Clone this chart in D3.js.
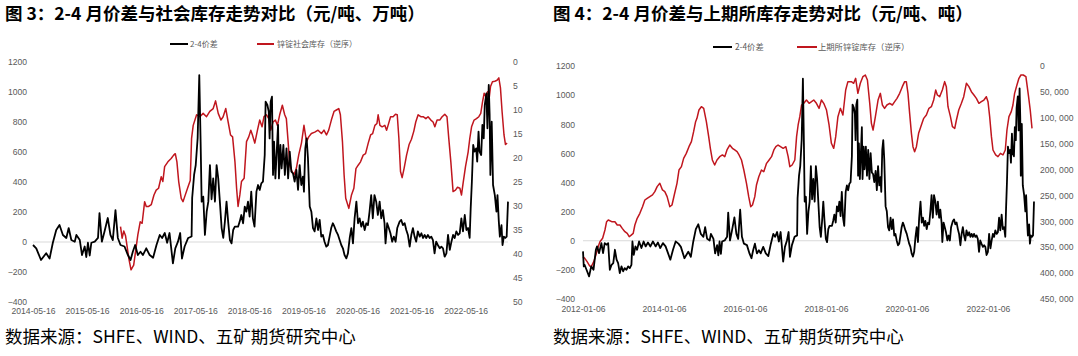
<!DOCTYPE html>
<html><head><meta charset="utf-8">
<script src="https://cdn.jsdelivr.net/npm/d3@7"></script>
<style>
body{margin:0;background:#fff;}
svg{display:block;}
</style></head>
<body>
<svg id="chart" width="1078" height="356"></svg>
<script>
// ---- 2-4 month spread (元/吨) ----
const spreadDates = [
"2012-01-06","2012-01-13","2012-01-20","2012-02-05","2012-03-01","2012-03-20","2012-04-10","2012-05-01","2012-05-12","2012-05-30",
"2012-06-20","2012-07-05","2012-07-20","2012-08-05","2012-08-20","2012-09-04","2012-09-20","2012-10-05","2012-10-20","2012-11-04",
"2012-11-18","2012-12-03","2012-12-18","2013-01-02","2013-01-16","2013-02-01","2013-02-16","2013-03-03","2013-03-18","2013-03-27",
"2013-04-08","2013-04-23","2013-05-08","2013-05-26","2013-06-16","2013-07-06","2013-07-24","2013-08-14","2013-09-05","2013-09-28",
"2013-10-22","2013-11-12","2013-12-03","2013-12-27","2014-01-20","2014-02-11","2014-03-04","2014-03-28","2014-04-21",
"2014-05-16","2014-06-07","2014-07-09","2014-08-13","2014-09-05","2014-09-27","2014-10-20","2014-11-11","2014-12-04","2014-12-27",
"2015-01-12","2015-01-30","2015-02-22","2015-03-05","2015-03-28","2015-04-12","2015-04-30","2015-05-11","2015-05-22","2015-06-03",
"2015-06-14","2015-07-07","2015-07-29","2015-08-08","2015-08-24","2015-09-11","2015-10-03","2015-10-21","2015-11-06","2015-11-24",
"2015-12-10","2015-12-28","2016-01-24","2016-02-16","2016-03-05","2016-03-20","2016-04-05","2016-04-23","2016-05-11","2016-05-27",
"2016-06-19","2016-07-12","2016-08-04","2016-08-27","2016-09-18","2016-10-04","2016-10-22","2016-11-07","2016-11-23","2016-12-16",
"2017-01-01","2017-01-19","2017-02-03","2017-02-15","2017-03-05","2017-03-29","2017-04-21","2017-04-25","2017-05-08","2017-05-19",
"2017-06-01","2017-06-12","2017-06-21","2017-06-28","2017-07-09","2017-07-20","2017-08-01","2017-08-12","2017-08-23","2017-09-03",
"2017-09-14","2017-09-26","2017-10-07","2017-10-18","2017-10-29","2017-11-10","2017-11-21","2017-12-02","2017-12-13","2017-12-24",
"2018-01-05","2018-01-16","2018-01-27","2018-02-07","2018-03-01","2018-03-12","2018-03-23","2018-04-04","2018-04-15","2018-04-26",
"2018-05-07","2018-05-18","2018-05-29","2018-06-09","2018-06-20","2018-07-03","2018-07-14","2018-07-25","2018-08-05","2018-08-16",
"2018-08-28","2018-09-03","2018-09-15","2018-09-24","2018-09-30","2018-10-07","2018-10-16","2018-10-23","2018-10-30","2018-11-08",
"2018-11-17","2018-11-26","2018-12-02","2018-12-12","2018-12-20","2019-01-01","2019-01-11","2019-01-22","2019-02-02","2019-02-13",
"2019-02-24","2019-03-07","2019-03-18","2019-03-30","2019-04-10","2019-04-21","2019-05-02","2019-05-13","2019-05-20","2019-05-29",
"2019-06-07","2019-06-16","2019-06-28","2019-07-09","2019-07-20","2019-07-31","2019-08-12","2019-08-23","2019-09-03","2019-09-14",
"2019-09-25","2019-10-06","2019-10-18","2019-10-29","2019-11-09","2019-11-20","2019-12-01","2019-12-12","2019-12-24","2020-01-05",
"2020-01-16","2020-01-27","2020-02-07","2020-02-18","2020-03-01","2020-03-12","2020-03-24","2020-04-04","2020-04-15","2020-04-26",
"2020-05-08","2020-05-19","2020-05-30","2020-06-10","2020-06-21","2020-07-03","2020-07-14","2020-07-25","2020-08-05","2020-08-16",
"2020-08-27","2020-09-07","2020-09-19","2020-09-30","2020-10-12","2020-10-23","2020-11-03","2020-11-14","2020-11-21","2020-12-02",
"2020-12-13","2020-12-24","2021-01-05","2021-01-16","2021-01-28","2021-02-08","2021-02-24","2021-03-07","2021-03-18","2021-03-30",
"2021-04-10","2021-04-21","2021-05-03","2021-05-14","2021-05-25","2021-06-05","2021-06-16","2021-06-27","2021-07-10","2021-07-21",
"2021-08-01","2021-08-12","2021-08-23","2021-09-03","2021-09-15","2021-09-26","2021-10-07","2021-10-18","2021-10-29","2021-11-09",
"2021-11-22","2021-12-03","2021-12-14","2021-12-25","2022-01-06","2022-01-17","2022-01-29","2022-02-09","2022-02-20","2022-03-03",
"2022-03-14","2022-03-26","2022-04-06","2022-04-17","2022-04-28","2022-05-10","2022-05-21","2022-06-01","2022-06-12","2022-06-19",
"2022-06-27","2022-07-06","2022-07-15","2022-07-26","2022-08-02","2022-08-11","2022-08-18","2022-08-29","2022-09-06","2022-09-15",
"2022-09-22","2022-10-03","2022-10-10","2022-10-19","2022-10-25","2022-10-30","2022-11-08","2022-11-17","2022-11-29","2022-12-10",
"2022-12-17","2022-12-26","2023-01-02","2023-01-13","2023-01-20","2023-01-29","2023-02-08","2023-02-17","2023-02-26"
];
const spreadValues = [
-73,-176,-165,-196,-245,-176,-199,-62,-39,-85,
-16,-85,-16,-27,-16,-199,-165,-154,-62,-130,
-154,-222,-176,-210,-188,-199,-176,-188,-165,-5,
-97,-39,-62,-5,-50,-5,-39,-12,-39,-5,
-39,-12,-50,-16,-39,-85,-130,-62,-5,
-20,-42,-120,-75,-110,-5,80,113,47,27,
93,13,2,47,13,-87,-30,-100,-5,-90,
-5,2,27,193,2,70,160,47,13,213,
27,-20,-30,-87,-120,-65,-20,-87,-65,-87,
-42,-87,-105,-20,47,27,60,-5,60,-143,
-42,2,60,-110,-30,27,37,293,447,513,
693,1113,669,269,302,47,202,269,513,285,
424,269,513,424,269,93,27,136,269,136,
13,-9,80,102,102,136,180,125,236,202,
269,169,336,158,102,336,380,347,391,402,
580,935,913,869,691,935,969,447,669,424,
602,780,424,647,491,647,447,624,424,602,
469,458,402,480,347,513,380,436,336,624,
691,558,236,202,93,71,158,80,147,36,
47,2,-31,-20,36,93,125,102,71,47,
13,-20,-42,-87,-109,-76,27,93,-9,158,
269,125,158,102,136,80,125,113,202,313,
158,313,269,180,269,158,213,125,-9,125,
93,58,2,36,2,93,136,147,113,125,
80,47,-31,47,93,36,2,71,36,58,
27,47,27,47,27,36,13,-76,2,-20,
-42,-31,-42,-98,-76,47,-53,2,47,27,
71,47,58,158,71,180,80,93,27,224,
402,647,602,624,536,736,602,580,780,691,
913,991,758,1047,847,447,802,380,313,202,
313,136,36,113,-20,36,27,36,269
];

// ---- 锌锭社会库存 (万吨, reversed axis) ----
const socialDates = [
"2015-12-28","2016-01-08","2016-01-19","2016-01-31","2016-02-11","2016-02-22","2016-03-08","2016-03-26","2016-04-12","2016-04-23",
"2016-05-09","2016-05-22","2016-06-08","2016-06-19","2016-07-05","2016-07-23","2016-08-10","2016-08-25","2016-09-10","2016-09-28",
"2016-10-09","2016-10-21","2016-11-12","2016-12-04","2016-12-21","2017-01-01","2017-01-12","2017-01-24","2017-02-10","2017-02-22",
"2017-03-05","2017-03-27","2017-04-12","2017-04-21","2017-05-02","2017-05-25","2017-06-16","2017-07-08","2017-07-31","2017-08-22",
"2017-09-14","2017-09-30","2017-10-18","2017-11-05","2017-11-20","2017-12-08","2017-12-24","2018-01-09","2018-01-23","2018-02-08",
"2018-02-19","2018-03-01","2018-03-13","2018-03-24","2018-04-11","2018-04-27","2018-05-12","2018-05-26","2018-06-06","2018-06-22",
"2018-07-10","2018-07-25","2018-08-10","2018-08-23","2018-09-09","2018-09-24","2018-10-08","2018-10-23","2018-11-08","2018-11-22",
"2018-12-07","2018-12-25","2019-01-10","2019-01-21","2019-02-02","2019-02-13","2019-02-28","2019-03-14","2019-03-30","2019-04-15",
"2019-05-03","2019-05-20","2019-06-06","2019-06-21","2019-07-09","2019-08-01","2019-08-23","2019-09-15","2019-10-02","2019-10-19",
"2019-11-03","2019-11-21","2019-12-09","2019-12-25","2020-01-10","2020-01-21","2020-02-04","2020-02-15","2020-02-26","2020-03-18",
"2020-04-05","2020-04-21","2020-05-05","2020-05-20","2020-06-05","2020-06-23","2020-07-09","2020-07-27","2020-08-12","2020-08-26",
"2020-09-10","2020-09-24","2020-10-02","2020-10-14","2020-10-29","2020-11-16","2020-11-28","2020-12-08","2020-12-25","2021-01-11",
"2021-01-27","2021-02-08","2021-02-19","2021-03-02","2021-03-13","2021-03-26","2021-04-12","2021-04-29","2021-05-15","2021-05-31",
"2021-06-13","2021-06-29","2021-07-17","2021-08-02","2021-08-20","2021-09-04","2021-09-23","2021-10-08","2021-10-20","2021-11-04",
"2021-11-22","2021-12-08","2021-12-26","2022-01-10","2022-01-22","2022-02-05","2022-02-20","2022-03-08","2022-03-22","2022-04-07",
"2022-04-18","2022-04-29","2022-05-15","2022-06-02","2022-06-13","2022-06-25","2022-07-12","2022-07-28","2022-08-13","2022-08-26",
"2022-09-07","2022-09-18","2022-09-29","2022-10-11","2022-10-19","2022-10-31","2022-11-13","2022-11-29","2022-12-14","2022-12-26",
"2023-01-06","2023-01-17","2023-01-30","2023-02-09","2023-02-20"
];
const socialValues = [
34.3,36.7,35.2,36.2,38.5,40.9,43.3,42.3,38.5,36.0,
33.3,33.6,29.1,30.1,30.1,29.7,27.7,26.7,26.3,23.9,
24.9,21.8,20.8,20.1,19.4,19.1,20.8,24.9,28.4,29.1,
28.1,26.1,24.7,15.9,13.2,11.0,11.4,10.7,11.4,10.3,
9.7,8.1,10.7,12.1,11.4,9.7,12.5,15.2,15.6,20.8,
26.3,30.1,27.7,24.9,24.2,16.6,15.6,14.2,15.2,16.9,
14.2,12.1,13.5,11.4,11.0,11.8,14.2,12.5,12.1,13.2,
11.0,9.0,11.0,11.8,16.6,21.5,22.8,23.5,22.1,19.3,
16.9,13.2,16.6,15.6,14.9,14.6,14.2,14.9,14.2,15.2,
14.2,12.1,10.3,10.0,9.7,11.0,16.6,23.5,28.4,30.5,
27.7,26.3,22.2,21.5,20.8,19.4,19.1,16.9,15.2,14.9,
13.2,12.8,11.0,13.2,13.5,13.2,14.2,13.2,11.4,11.4,
10.9,11.0,15.9,22.8,24.1,22.2,19.4,17.2,16.1,14.4,
12.5,11.0,11.4,11.4,11.8,11.4,12.1,12.5,13.5,12.1,
12.1,11.4,10.9,11.4,15.9,20.8,27.0,26.7,26.1,26.3,
27.7,25.2,21.8,18.7,15.9,13.5,12.1,11.8,11.4,10.7,
8.3,6.5,7.2,6.2,8.3,5.1,4.1,4.0,3.8,3.3,
5.4,10.3,15.2,17.2,16.9
];

// ---- 上期所锌锭库存 (吨, reversed axis) ----
const shfeDates = [
"2012-01-06","2012-01-22","2012-02-12","2012-03-07","2012-03-22","2012-04-12","2012-05-01","2012-05-22","2012-06-07","2012-07-01",
"2012-07-22","2012-08-06","2012-08-21","2012-09-21","2012-10-20","2012-11-10","2012-12-04","2012-12-25","2013-01-18","2013-02-08",
"2013-02-26","2013-03-16","2013-04-03","2013-04-18","2013-05-09","2013-06-02","2013-06-26","2013-07-17","2013-08-07","2013-08-31",
"2013-09-24","2013-10-15","2013-11-05","2013-11-29","2013-12-23","2014-01-13","2014-02-03","2014-02-27","2014-03-19","2014-04-12",
"2014-05-03","2014-05-21","2014-06-12","2014-07-02","2014-07-26","2014-08-19","2014-09-10","2014-09-30","2014-10-18","2014-10-30",
"2014-11-17","2014-12-09","2014-12-30","2015-01-23","2015-02-13","2015-02-28","2015-03-18","2015-04-08","2015-04-29","2015-05-23",
"2015-06-17","2015-07-08","2015-07-28","2015-08-22","2015-09-15","2015-10-06","2015-10-27","2015-11-14","2015-12-06","2015-12-27",
"2016-01-20","2016-02-09","2016-02-27","2016-03-14","2016-04-04","2016-04-19","2016-05-10","2016-06-03","2016-06-24","2016-07-19",
"2016-08-11","2016-09-02","2016-09-23","2016-10-11","2016-10-31","2016-11-22","2016-12-16","2017-01-09","2017-01-30","2017-02-14",
"2017-03-07","2017-03-31","2017-04-16","2017-04-30","2017-05-15","2017-05-31","2017-06-20","2017-07-14","2017-08-07","2017-08-29",
"2017-09-18","2017-10-12","2017-11-05","2017-11-26","2017-12-17","2018-01-11","2018-02-03","2018-02-24","2018-03-17","2018-04-04",
"2018-04-24","2018-05-16","2018-06-08","2018-07-03","2018-07-23","2018-08-23","2018-09-13","2018-10-01","2018-10-21","2018-11-12",
"2018-12-05","2018-12-27","2019-01-15","2019-02-05","2019-02-20","2019-03-07","2019-03-28","2019-04-21","2019-05-12","2019-05-30",
"2019-06-19","2019-07-10","2019-08-04","2019-08-28","2019-09-18","2019-10-09","2019-11-02","2019-11-26","2019-12-17","2020-01-01",
"2020-01-16","2020-01-31","2020-02-16","2020-03-01","2020-03-16","2020-04-01","2020-04-21","2020-05-16","2020-06-06","2020-06-30",
"2020-07-23","2020-08-14","2020-09-04","2020-09-22","2020-10-07","2020-10-28","2020-11-21","2020-12-12","2020-12-27","2021-01-11",
"2021-02-02","2021-02-20","2021-03-13","2021-03-28","2021-04-18","2021-05-12","2021-06-02","2021-06-26","2021-07-19","2021-08-10",
"2021-09-02","2021-09-24","2021-10-17","2021-11-08","2021-12-01","2021-12-23","2022-01-07","2022-01-22","2022-02-07","2022-02-21",
"2022-03-17","2022-04-07","2022-04-29","2022-05-22","2022-06-12","2022-06-27","2022-07-15","2022-08-05","2022-08-20","2022-09-04",
"2022-09-25","2022-10-13","2022-10-31","2022-11-21","2022-12-15","2023-01-08","2023-01-23","2023-02-08"
];
const shfeValues = [
368300,371400,377900,386300,386900,377900,365000,349000,339300,332800,
316700,300700,297400,300700,300700,307100,307100,313600,320000,323300,
329700,326500,323300,307100,294200,284500,271700,258800,255500,252300,
249000,242700,233000,226600,239400,242700,252300,271700,268400,245800,
226600,200900,194400,178300,168700,155800,146100,126900,107600,101100,
85000,78600,81800,107600,136500,159000,181500,191200,181500,175100,
171800,175100,162200,152600,159000,162200,165400,171800,181500,200900,
226600,252300,271700,268400,252300,229900,213800,200900,204100,188000,
181500,175100,162200,155800,152600,155800,159000,155800,175100,194400,
191200,181500,136500,113900,97900,75300,72100,65700,72100,68900,
65700,72100,81800,65700,72100,85000,113900,149300,159000,136500,
97900,81800,94600,46400,30200,30200,33400,23800,52800,33400,
20600,17400,27000,72100,110700,123600,97900,65700,52800,75300,
81800,75300,72100,75300,68900,62500,52800,39900,30200,30200,
52800,91400,130000,155800,165400,155800,130000,113900,101100,94600,
81800,78600,65700,46400,56000,59300,46400,30200,39900,78600,
97900,117200,120400,104300,85000,72100,59300,33400,39900,49600,
56000,62500,72100,68900,65700,59300,68900,97900,136500,162200,
171800,175100,168700,171800,162200,123600,97900,88200,75300,52800,
36700,23800,17400,17400,20600,59300,85000,120400
];

// ---- axis ticks & labels ----
const leftXTicks = ["2014-05-16","2015-05-16","2016-05-16","2017-05-16","2018-05-16","2019-05-16","2020-05-16","2021-05-16","2022-05-16"];
const rightXTicks = ["2012-01-06","2014-01-06","2016-01-06","2018-01-06","2020-01-06","2022-01-06"];
const spreadTicks = [-400,-200,0,200,400,600,800,1000,1200];
const socialTicks = [0,5,10,15,20,25,30,35,40,45,50];
const shfeTicks = [0,50000,100000,150000,200000,250000,300000,350000,400000,450000];
const titles = ["图 3：2-4 月价差与社会库存走势对比（元/吨、万吨）","图 4：2-4 月价差与上期所库存走势对比（元/吨、吨）"];
const legendSpread = "2-4价差";
const legendSocial = "锌锭社会库存（逆序）";
const legendShfe = "上期所锌锭库存（逆序）";
const sourceText = "数据来源：SHFE、WIND、五矿期货研究中心";

// ---- drawing ----
const parse = d3.timeParse("%Y-%m-%d");
const fmtDate = d3.timeFormat("%Y-%m-%d");
const svg = d3.select("#chart");
const RED = "#C0161E";
const tickFont = "'Liberation Sans', Arial, sans-serif";
const cjkFont = "'Noto Sans CJK SC', sans-serif";
const spreadData = spreadDates.map((d,i)=>({date:parse(d), v:spreadValues[i]}));
const socialData = socialDates.map((d,i)=>({date:parse(d), v:socialValues[i]}));
const shfeData = shfeDates.map((d,i)=>({date:parse(d), v:shfeValues[i]}));

function drawPanel(cfg){
  const g = svg.append("g");
  const x = d3.scaleTime().domain([parse(cfg.x0), parse(cfg.x1)]).range([cfg.left, cfg.right]);
  const yL = d3.scaleLinear().domain([-400,1200]).range([cfg.bottom, cfg.top]);
  const yR = d3.scaleLinear().domain([0, cfg.rMax]).range([cfg.top, cfg.bottom]);

  // title
  g.append("text").attr("x", cfg.titleX).attr("y", 20)
    .attr("font-family", cjkFont).attr("font-weight", 700).attr("font-size", 17.5)
    .attr("fill", "#000").text(cfg.title);

  // zero line
  g.append("line").attr("x1", cfg.left).attr("x2", cfg.right)
    .attr("y1", yL(0)).attr("y2", yL(0)).attr("stroke", "#d9d9d9").attr("stroke-width", 1);

  // left axis
  const ax = g.append("g").attr("transform", `translate(${cfg.leftAxisX},0)`)
    .call(d3.axisLeft(yL).tickValues(spreadTicks).tickSize(0).tickPadding(0).tickFormat(d3.format("d")));
  // right axis
  const ar = g.append("g").attr("transform", `translate(${cfg.rightAxisX},0)`)
    .call(d3.axisRight(yR).tickValues(cfg.rTicks).tickSize(0).tickPadding(0).tickFormat(cfg.rFmt));
  // bottom axis
  const ab = g.append("g").attr("transform", `translate(0,${cfg.xAxisY})`)
    .call(d3.axisBottom(x).tickValues(cfg.xTicks.map(parse)).tickSize(0).tickPadding(0).tickFormat(fmtDate));
  [ax, ar, ab].forEach(a => {
    a.select(".domain").remove();
    a.selectAll("text").attr("font-family", tickFont).attr("font-size", 8.6).attr("fill", "#595959");
  });

  // lines
  const lineL = d3.line().x(d=>x(d.date)).y(d=>yL(d.v));
  const lineR = d3.line().x(d=>x(d.date)).y(d=>yR(d.v));
  g.append("path").datum(cfg.redData).attr("d", lineR)
    .attr("fill","none").attr("stroke", RED).attr("stroke-width", 1.5).attr("stroke-linejoin","round");
  g.append("path").datum(cfg.spread).attr("d", lineL)
    .attr("fill","none").attr("stroke", "#000").attr("stroke-width", 1.8).attr("stroke-linejoin","round");

  // legend
  const lg = g.append("g").attr("font-family", cjkFont).attr("font-size", cfg.legFs).attr("fill", "#595959");
  lg.append("line").attr("x1", cfg.leg[0]).attr("x2", cfg.leg[1]).attr("y1", cfg.legY).attr("y2", cfg.legY)
    .attr("stroke", "#000").attr("stroke-width", 2);
  lg.append("text").attr("x", cfg.leg[2]).attr("y", cfg.legY).attr("dy", "0.35em").text(legendSpread);
  lg.append("line").attr("x1", cfg.leg[3]).attr("x2", cfg.leg[4]).attr("y1", cfg.legY).attr("y2", cfg.legY)
    .attr("stroke", RED).attr("stroke-width", 2);
  lg.append("text").attr("x", cfg.leg[5]).attr("y", cfg.legY).attr("dy", "0.35em").text(cfg.redLabel);

  // source
  g.append("text").attr("x", cfg.titleX).attr("y", 343)
    .attr("font-family", cjkFont).attr("font-size", 17.5).attr("fill", "#000").text(sourceText);
}

drawPanel({
  title: titles[0], titleX: 5,
  x0: "2014-05-16", x1: "2023-02-26", left: 33, right: 508,
  top: 62, bottom: 302, rMax: 50, rTicks: socialTicks, rFmt: d3.format("d"),
  leftAxisX: 27, rightAxisX: 513, xAxisY: 308, xTicks: leftXTicks,
  spread: spreadData.filter(d => d.date >= parse("2014-05-16")),
  redData: socialData, redLabel: legendSocial,
  legY: 44, legFs: 8, leg: [170,188,190,257,274,277]
});
drawPanel({
  title: titles[1], titleX: 553,
  x0: "2012-01-06", x1: "2023-02-26", left: 583, right: 1034,
  top: 66, bottom: 299, rMax: 450000, rTicks: shfeTicks, rFmt: d => d3.format(",")(d).replace(/,/g, ", "),
  leftAxisX: 575, rightAxisX: 1040, xAxisY: 306, xTicks: rightXTicks,
  spread: spreadData, redData: shfeData, redLabel: legendShfe,
  legY: 47, legFs: 8.3, leg: [713,732,735,797,817,818]
});
</script>
</body></html>
